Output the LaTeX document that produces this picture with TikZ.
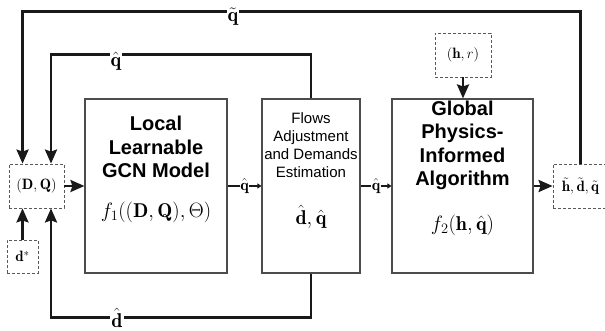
\documentclass[tikz,border=0pt]{standalone}
\usepackage{fontspec}
\setsansfont{Liberation Sans}
\usetikzlibrary{arrows.meta,calc}
\begin{document}
\begin{tikzpicture}[x=1pt,y=-1pt,
        blk/.style={draw=black!70,line width=1.1pt,minimum height=174pt,inner sep=0pt},
        dbox/.style={draw=black!65,line width=0.8pt,dash pattern=on 3pt off 2pt,inner sep=0pt,font=\fontsize{15}{18}\selectfont},
        fb/.style={draw=black!90,line width=2.6pt,-{Stealth[length=14pt,width=12pt,inset=2pt]}},
        sm/.style={draw=black!90,line width=2.4pt,-{Triangle[length=4pt,width=5pt]}},
        lbl/.style={fill=white,inner sep=1pt,font=\fontsize{20}{24}\selectfont},
        slbl/.style={fill=white,inner sep=0.5pt,font=\fontsize{16}{18}\selectfont},
        title/.style={align=center,font=\fontsize{20}{23.5}\selectfont\sffamily\bfseries},
        frm/.style={font=\fontsize{20}{24}\selectfont}]
    \clip (0,0) rectangle (605,331);
    % boxes
    \node[blk,minimum width=142pt] (local) at (156,186) {};
    \node[blk,minimum width=98pt] (flows) at (311,186) {};
    \node[blk,minimum width=141pt] (global) at (462.5,186) {};
    \node[dbox,minimum width=55pt,minimum height=44pt] (dq) at (36.5,186) {$(\mathbf{D},\mathbf{Q})$};
    \node[dbox,minimum width=31pt,minimum height=33pt] (dstar) at (22.5,256.5) {$\mathbf{d}^{*}$};
    \node[dbox,minimum width=56pt,minimum height=44pt] (hr) at (463,55) {$(\mathbf{h},r)$};
    \node[dbox,minimum width=55pt,minimum height=44pt] (out) at (580.5,186) {$\tilde{\mathbf{h}},\tilde{\mathbf{d}},\tilde{\mathbf{q}}$};
    % texts in the boxes
    \node[title] (localtxt) at (156,147) {Local\\Learnable\\GCN Model};
    \node[frm] (localf) at (156,212) {$f_1((\mathbf{D},\mathbf{Q}),\Theta)$};
    \node[align=center,font=\fontsize{15}{18}\selectfont\sffamily] (flowstxt) at (311,145) {Flows\\Adjustment\\and Demands\\Estimation};
    \node[frm] (flowsf) at (311,217) {$\hat{\mathbf{d}},\hat{\mathbf{q}}$};
    \node[title] (globaltxt) at (462.5,145.5) {Global\\Physics-\\Informed\\Algorithm};
    \node[frm] (globalf) at (462.5,225) {$f_2(\mathbf{h},\hat{\mathbf{q}})$};
    % entry points on (D,Q)
    \coordinate (dqn1) at ($(dq.north west)!0.25!(dq.north east)$);
    \coordinate (dqn2) at ($(dq.north west)!0.76!(dq.north east)$);
    \coordinate (dqs2) at ($(dq.south west)!0.76!(dq.south east)$);
    % feedback loops
    \draw[fb] (out.north) -- ++(0,-152) -| (dqn1);
    \node[lbl] (qtl) at (233,17) {$\tilde{\mathbf{q}}$};
    \draw[fb] (flows.north) -- ++(0,-44) -| (dqn2);
    \node[lbl] (qhl) at (116,61) {$\hat{\mathbf{q}}$};
    \draw[fb] (flows.south) -- ++(0,44) -| (dqs2);
    \node[lbl] (dhl) at (117,318) {$\hat{\mathbf{d}}$};
    % forward arrows
    \draw[fb] (dstar.north) -- (dstar.north |- dq.south);
    \draw[fb] (dq.east) -- (local.west);
    \draw[sm] (local.east) -- node[slbl] {$\hat{\mathbf{q}}$} (flows.west);
    \draw[sm] (flows.east) -- node[slbl] {$\hat{\mathbf{q}}$} (global.west);
    \draw[fb] (global.east) -- (out.west);
    \draw[fb] (hr.south) -- (hr.south |- global.north);
\end{tikzpicture}
\end{document}
